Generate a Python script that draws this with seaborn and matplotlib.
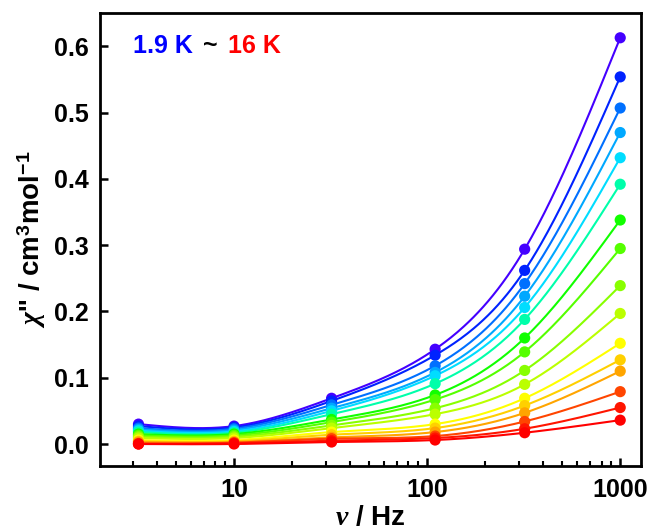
import numpy as np
import pandas as pd
import matplotlib
matplotlib.use("Agg")
import matplotlib.pyplot as plt
import seaborn as sns

# ---- data ----
freq = [3.2, 10, 32, 110, 320, 1000]
temps = ["T01", "T02", "T03", "T04", "T05", "T06", "T07", "T08",
         "T09", "T10", "T11", "T12", "T13", "T14", "T15", "T16"]
chi2 = [
    [0.030, 0.027, 0.069, 0.143, 0.294, 0.613],
    [0.027, 0.025, 0.065, 0.134, 0.262, 0.554],
    [0.024, 0.023, 0.059, 0.118, 0.242, 0.507],
    [0.022, 0.021, 0.054, 0.108, 0.223, 0.470],
    [0.020, 0.019, 0.050, 0.103, 0.206, 0.432],
    [0.018, 0.017, 0.045, 0.091, 0.188, 0.392],
    [0.015, 0.015, 0.037, 0.074, 0.160, 0.338],
    [0.013, 0.013, 0.033, 0.067, 0.139, 0.295],
    [0.011, 0.011, 0.028, 0.054, 0.111, 0.239],
    [0.009, 0.009, 0.024, 0.045, 0.090, 0.197],
    [0.006, 0.006, 0.018, 0.030, 0.069, 0.152],
    [0.004, 0.004, 0.014, 0.024, 0.058, 0.127],
    [0.003, 0.003, 0.010, 0.018, 0.047, 0.110],
    [0.001, 0.002, 0.008, 0.012, 0.034, 0.079],
    [0.000, 0.001, 0.005, 0.009, 0.023, 0.055],
    [0.000, 0.000, 0.003, 0.006, 0.017, 0.036],
]
colors = ["#4400FF", "#0022FF", "#0070FF", "#00A8FF", "#00DDFF", "#00FFAA",
          "#11FF00", "#55FF00", "#88FF00", "#BBFF00", "#FFFF00", "#FFD000",
          "#FFA500", "#FF4500", "#FF1500", "#FF0000"]


def natural_spline(x, y, xs):
    x = np.asarray(x, float)
    y = np.asarray(y, float)
    n = len(x)
    h = np.diff(x)
    A = np.zeros((n, n))
    b = np.zeros(n)
    A[0, 0] = 1
    A[-1, -1] = 1
    for i in range(1, n - 1):
        A[i, i - 1] = h[i - 1]
        A[i, i] = 2 * (h[i - 1] + h[i])
        A[i, i + 1] = h[i]
        b[i] = 6 * ((y[i + 1] - y[i]) / h[i] - (y[i] - y[i - 1]) / h[i - 1])
    M = np.linalg.solve(A, b)
    idx = np.clip(np.searchsorted(x, xs) - 1, 0, n - 2)
    x0, x1 = x[idx], x[idx + 1]
    hh = x1 - x0
    t0 = x1 - xs
    t1 = xs - x0
    return (M[idx] * t0 ** 3 / (6 * hh) + M[idx + 1] * t1 ** 3 / (6 * hh)
            + (y[idx] / hh - M[idx] * hh / 6) * t0
            + (y[idx + 1] / hh - M[idx + 1] * hh / 6) * t1)


# ---- tables ----
rows = []
for t, vals in zip(temps, chi2):
    for f, v in zip(freq, vals):
        rows.append({"T": t, "f": f, "chi": v})
df = pd.DataFrame(rows)

fit_rows = []
lf = np.log10(freq)
grid = np.linspace(lf.min(), lf.max(), 300)
for t, vals in zip(temps, chi2):
    yy = natural_spline(lf, vals, grid)
    for g, y in zip(grid, yy):
        fit_rows.append({"T": t, "f": 10 ** g, "chi": y})
dfit = pd.DataFrame(fit_rows)

sns.set_theme(style="ticks")
plt.rcParams["font.family"] = ["Liberation Sans", "DejaVu Sans"]
plt.rcParams["font.weight"] = "bold"
plt.rcParams["text.color"] = "black"
plt.rcParams["axes.labelcolor"] = "black"
plt.rcParams["xtick.color"] = "black"
plt.rcParams["ytick.color"] = "black"
plt.rcParams["mathtext.fontset"] = "custom"
plt.rcParams["mathtext.rm"] = "Liberation Sans:bold"
plt.rcParams["mathtext.bf"] = "Liberation Sans:bold"
plt.rcParams["mathtext.it"] = "Liberation Serif:italic"

fig = plt.figure(figsize=(6.53, 5.30), dpi=100)
ax = fig.add_axes([0.153, 0.121, 0.829, 0.854])

pal = dict(zip(temps, colors))
sns.lineplot(data=dfit, x="f", y="chi", hue="T", palette=pal, legend=False,
             ax=ax, linewidth=1.5, sort=False, estimator=None)
sns.scatterplot(data=df, x="f", y="chi", hue="T", palette=pal, legend=False,
                ax=ax, s=65, edgecolor="none", zorder=3)

ax.set_xscale("log")
ax.set_xlim(2.02, 1285)
ax.set_ylim(-0.033, 0.65)
ax.set_xticks([10, 100, 1000])
ax.set_xticklabels(["10", "100", "1000"])
ax.set_yticks([0.0, 0.1, 0.2, 0.3, 0.4, 0.5, 0.6])
ax.set_yticklabels(["0.0", "0.1", "0.2", "0.3", "0.4", "0.5", "0.6"])
ax.tick_params(which="major", direction="in", length=6, width=1.8,
               labelsize=18, top=False, right=False, pad=8,
               colors="black")
ax.tick_params(axis="x", which="major", pad=9)
ax.tick_params(which="minor", direction="in", length=3.5, width=1.5,
               top=False, right=False, colors="black")
ax.tick_params(axis="y", which="minor", left=False)
for lab in ax.get_xticklabels() + ax.get_yticklabels():
    lab.set_fontweight("bold")
for sp in ax.spines.values():
    sp.set_linewidth(2)
    sp.set_color("black")

ax.set_xlabel(r"$\nu$ / Hz", fontsize=20, fontweight="bold", labelpad=2)
ax.set_ylabel(r"$\chi$'' / cm$^3$mol$^{-1}$", fontsize=20, fontweight="bold",
              labelpad=4)

fig.text(0.204, 0.913, "1.9 K", color="#0000FF", fontsize=18,
         fontweight="bold", va="center", ha="left")
fig.text(0.311, 0.913, "~", color="black", fontsize=18,
         fontweight="bold", va="center", ha="left")
fig.text(0.349, 0.913, "16 K", color="#FF0000", fontsize=18,
         fontweight="bold", va="center", ha="left")

fig.savefig("out.png", dpi=100)
